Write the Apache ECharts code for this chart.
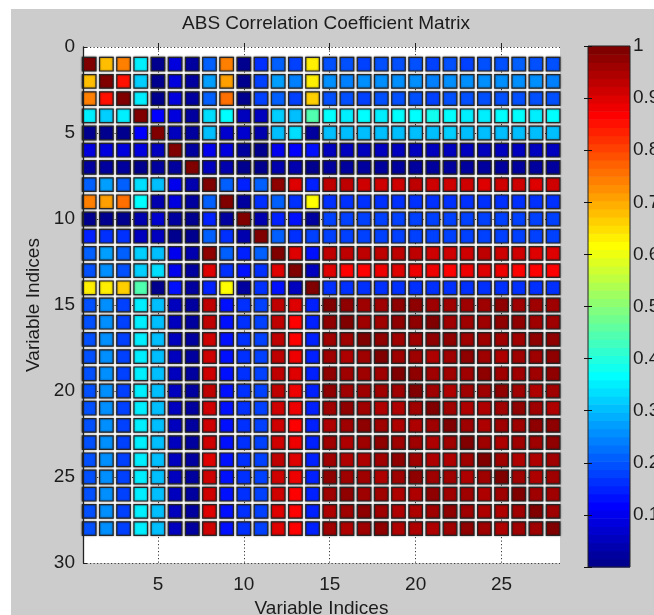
<!DOCTYPE html>
<html>
<head>
<meta charset="utf-8">
<title>ABS Correlation Coefficient Matrix</title>
<script src="https://cdn.jsdelivr.net/npm/echarts@6/dist/echarts.min.js"></script>
<style>
  html, body { margin: 0; padding: 0; background: #ffffff; overflow: hidden; }
  #panel { position: absolute; left: 11px; top: 9px; right: 0; bottom: 0; background: #cccccc; }
  #chart { position: absolute; left: 0; top: 0; width: 654px; height: 615px; }
</style>
</head>
<body>
<div id="panel"></div>
<div id="chart"></div>
<script>
// Absolute correlation coefficients between 28 variables, one array per row.
const r01 = [1, 0.68, 0.742, 0.344, 0.008, 0.09, 0.024, 0.21, 0.742, 0.008, 0.164, 0.21, 0.18, 0.633, 0.195, 0.195, 0.18, 0.195, 0.195, 0.195, 0.18, 0.195, 0.18, 0.195, 0.195, 0.21, 0.195, 0.195];
const r02 = [0.68, 1, 0.852, 0.32, 0.008, 0.09, 0.024, 0.273, 0.711, 0.008, 0.18, 0.273, 0.242, 0.633, 0.258, 0.242, 0.258, 0.258, 0.258, 0.258, 0.242, 0.258, 0.258, 0.258, 0.258, 0.258, 0.258, 0.242];
const r03 = [0.742, 0.852, 1, 0.352, 0.008, 0.09, 0.024, 0.21, 0.758, 0.008, 0.18, 0.21, 0.18, 0.664, 0.195, 0.195, 0.18, 0.195, 0.195, 0.195, 0.18, 0.195, 0.195, 0.195, 0.195, 0.195, 0.195, 0.195];
const r04 = [0.344, 0.32, 0.352, 1, 0.117, 0.09, 0.024, 0.336, 0.367, 0.055, 0.055, 0.328, 0.305, 0.445, 0.36, 0.352, 0.36, 0.352, 0.36, 0.36, 0.38, 0.36, 0.352, 0.352, 0.36, 0.36, 0.352, 0.36];
const r05 = [0.008, 0.008, 0.008, 0.117, 1, 0.055, 0.024, 0.305, 0.07, 0.07, 0.04, 0.305, 0.336, 0.024, 0.305, 0.305, 0.305, 0.305, 0.305, 0.305, 0.305, 0.32, 0.305, 0.305, 0.305, 0.305, 0.305, 0.305];
const r06 = [0.09, 0.09, 0.09, 0.09, 0.055, 1, 0.024, 0.1, 0.09, 0.024, 0.008, 0.1, 0.117, 0.125, 0.055, 0.055, 0.055, 0.055, 0.055, 0.055, 0.055, 0.055, 0.055, 0.055, 0.055, 0.055, 0.055, 0.055];
const r07 = [0.024, 0.024, 0.024, 0.008, 0.024, 0.024, 1, 0.055, 0.04, 0.008, 0.008, 0.04, 0.04, 0.008, 0.024, 0.024, 0.024, 0.024, 0.024, 0.024, 0.024, 0.024, 0.024, 0.024, 0.024, 0.024, 0.024, 0.024];
const r08 = [0.21, 0.273, 0.21, 0.336, 0.305, 0.1, 0.04, 1, 0.21, 0.148, 0.21, 0.977, 0.898, 0.148, 0.93, 0.93, 0.914, 0.914, 0.914, 0.93, 0.914, 0.914, 0.914, 0.898, 0.914, 0.914, 0.898, 0.914];
const r09 = [0.742, 0.711, 0.758, 0.367, 0.04, 0.09, 0.024, 0.21, 1, 0.024, 0.164, 0.21, 0.164, 0.617, 0.164, 0.164, 0.164, 0.164, 0.164, 0.164, 0.164, 0.164, 0.164, 0.164, 0.164, 0.164, 0.164, 0.164];
const r10 = [0.008, 0.008, 0.008, 0.04, 0.07, 0.024, 0.008, 0.148, 0.024, 1, 0.04, 0.148, 0.133, 0.024, 0.18, 0.18, 0.18, 0.18, 0.18, 0.18, 0.18, 0.18, 0.18, 0.18, 0.18, 0.18, 0.18, 0.18];
const r11 = [0.148, 0.164, 0.164, 0.055, 0.055, 0.008, 0.008, 0.21, 0.164, 0.04, 1, 0.21, 0.164, 0.18, 0.18, 0.18, 0.18, 0.18, 0.18, 0.18, 0.18, 0.18, 0.18, 0.18, 0.18, 0.18, 0.18, 0.18];
const r12 = [0.21, 0.273, 0.21, 0.328, 0.305, 0.1, 0.04, 0.977, 0.21, 0.148, 0.21, 1, 0.898, 0.133, 0.93, 0.93, 0.93, 0.93, 0.93, 0.93, 0.914, 0.914, 0.914, 0.93, 0.914, 0.914, 0.898, 0.898];
const r13 = [0.195, 0.258, 0.195, 0.32, 0.336, 0.1, 0.024, 0.898, 0.164, 0.133, 0.164, 0.898, 1, 0.055, 0.898, 0.87, 0.87, 0.883, 0.898, 0.89, 0.883, 0.87, 0.89, 0.906, 0.89, 0.87, 0.87, 0.87];
const r14 = [0.633, 0.633, 0.664, 0.445, 0.008, 0.125, 0.024, 0.148, 0.617, 0.024, 0.164, 0.133, 0.055, 1, 0.164, 0.164, 0.164, 0.164, 0.164, 0.164, 0.164, 0.164, 0.164, 0.164, 0.164, 0.164, 0.164, 0.164];
const r15 = [0.195, 0.258, 0.18, 0.352, 0.305, 0.055, 0.024, 0.93, 0.133, 0.164, 0.18, 0.93, 0.898, 0.148, 1, 0.97, 0.955, 0.961, 0.97, 0.977, 0.961, 0.955, 0.961, 0.961, 0.97, 0.961, 0.955, 0.961];
const r16 = [0.195, 0.258, 0.18, 0.352, 0.305, 0.055, 0.024, 0.93, 0.133, 0.164, 0.18, 0.93, 0.87, 0.148, 0.97, 1, 0.961, 0.955, 0.97, 0.977, 0.985, 0.961, 0.955, 0.955, 0.97, 0.977, 0.961, 0.961];
const r17 = [0.195, 0.258, 0.18, 0.352, 0.305, 0.055, 0.024, 0.914, 0.133, 0.164, 0.18, 0.93, 0.87, 0.148, 0.955, 0.961, 1, 0.97, 0.955, 0.961, 0.977, 0.97, 0.961, 0.955, 0.961, 0.961, 0.977, 0.977];
const r18 = [0.195, 0.258, 0.18, 0.352, 0.305, 0.055, 0.024, 0.914, 0.133, 0.164, 0.18, 0.93, 0.883, 0.148, 0.955, 0.945, 0.961, 1, 0.961, 0.961, 0.945, 0.961, 0.977, 0.961, 0.945, 0.961, 0.961, 0.977];
const r19 = [0.195, 0.258, 0.18, 0.352, 0.305, 0.055, 0.024, 0.914, 0.133, 0.164, 0.18, 0.93, 0.898, 0.148, 0.97, 0.955, 0.955, 0.961, 1, 0.977, 0.955, 0.955, 0.961, 0.977, 0.961, 0.955, 0.955, 0.97];
const r20 = [0.195, 0.258, 0.18, 0.352, 0.305, 0.055, 0.024, 0.93, 0.133, 0.164, 0.18, 0.93, 0.89, 0.148, 0.977, 0.961, 0.961, 0.955, 0.961, 1, 0.961, 0.945, 0.961, 0.961, 0.97, 0.955, 0.945, 0.961];
const r21 = [0.195, 0.258, 0.18, 0.352, 0.305, 0.055, 0.024, 0.914, 0.133, 0.164, 0.18, 0.914, 0.883, 0.148, 0.961, 0.97, 0.961, 0.945, 0.945, 0.961, 1, 0.955, 0.945, 0.945, 0.961, 0.977, 0.955, 0.945];
const r22 = [0.195, 0.258, 0.18, 0.352, 0.305, 0.055, 0.024, 0.914, 0.133, 0.164, 0.18, 0.914, 0.87, 0.148, 0.945, 0.961, 0.977, 0.961, 0.945, 0.945, 0.961, 1, 0.961, 0.945, 0.961, 0.961, 0.977, 0.97];
const r23 = [0.195, 0.258, 0.18, 0.352, 0.305, 0.055, 0.024, 0.914, 0.133, 0.164, 0.18, 0.914, 0.89, 0.148, 0.955, 0.945, 0.961, 0.97, 0.955, 0.955, 0.945, 0.961, 1, 0.961, 0.945, 0.955, 0.961, 0.977];
const r24 = [0.195, 0.258, 0.18, 0.352, 0.305, 0.055, 0.024, 0.898, 0.133, 0.164, 0.18, 0.93, 0.906, 0.148, 0.961, 0.945, 0.945, 0.961, 0.97, 0.961, 0.945, 0.945, 0.961, 1, 0.955, 0.945, 0.945, 0.961];
const r25 = [0.195, 0.258, 0.18, 0.352, 0.305, 0.055, 0.024, 0.914, 0.133, 0.164, 0.18, 0.914, 0.89, 0.148, 0.977, 0.961, 0.961, 0.945, 0.955, 0.977, 0.961, 0.955, 0.945, 0.955, 1, 0.961, 0.945, 0.955];
const r26 = [0.195, 0.258, 0.18, 0.352, 0.305, 0.055, 0.024, 0.914, 0.133, 0.164, 0.18, 0.914, 0.87, 0.148, 0.955, 0.977, 0.961, 0.955, 0.945, 0.945, 0.97, 0.961, 0.955, 0.945, 0.961, 1, 0.961, 0.955];
const r27 = [0.195, 0.258, 0.18, 0.352, 0.305, 0.055, 0.024, 0.898, 0.133, 0.164, 0.18, 0.898, 0.87, 0.148, 0.945, 0.961, 0.97, 0.961, 0.945, 0.945, 0.961, 0.97, 0.961, 0.945, 0.945, 0.961, 1, 0.961];
const r28 = [0.195, 0.258, 0.18, 0.352, 0.305, 0.055, 0.024, 0.914, 0.133, 0.164, 0.18, 0.898, 0.87, 0.148, 0.955, 0.945, 0.961, 0.97, 0.945, 0.945, 0.945, 0.961, 0.97, 0.955, 0.945, 0.955, 0.961, 1];

// Tick values for the matrix axes and the colour bar.
const xTickValues = [5, 10, 15, 20, 25];
const yTickStep = 5;
const yAxisRange = [0, 30];
const colorbarRange = [0, 1];
const colorbarStep = 0.1;

const corrRows = [r01, r02, r03, r04, r05, r06, r07, r08, r09, r10, r11, r12, r13, r14,
                  r15, r16, r17, r18, r19, r20, r21, r22, r23, r24, r25, r26, r27, r28];

const FONT = '"Liberation Sans", Arial, Helvetica, sans-serif';
const INK = '#1c1c1c';
const FS = 19;

// MATLAB-style jet colormap with n discrete levels.
function jetColormap(n) {
  const m = Math.ceil(n / 4);
  const u = [];
  for (let i = 1; i <= m; i++) u.push(i / m);
  for (let i = 1; i < m; i++) u.push(1);
  for (let i = m; i >= 1; i--) u.push(i / m);
  const g0 = Math.ceil(m / 2) - (n % 4 === 1 ? 1 : 0);
  const at = t => (t >= 1 && t <= u.length) ? u[t - 1] : 0;
  const out = [];
  for (let k = 1; k <= n; k++) {
    const r = at(k - g0 - m), g = at(k - g0), b = at(k - g0 + m);
    out.push('rgb(' + Math.round(r * 255) + ',' + Math.round(g * 255) + ',' + Math.round(b * 255) + ')');
  }
  return out;
}
const jet = jetColormap(64);
const levelOf = v => {
  const t = (v - colorbarRange[0]) / (colorbarRange[1] - colorbarRange[0]);
  return Math.max(0, Math.min(jet.length - 1, Math.floor(t * jet.length)));
};

// One square per matrix cell: [column, row, value].
const cells = [];
corrRows.forEach((row, i) => row.forEach((v, j) => cells.push([j + 1, i + 1, v])));

// Colour bar bands: [lower, upper, level].
const bands = jet.map((c, i) => [
  colorbarRange[0] + (colorbarRange[1] - colorbarRange[0]) * i / jet.length,
  colorbarRange[0] + (colorbarRange[1] - colorbarRange[0]) * (i + 1) / jet.length,
  i
]);

const chart = echarts.init(document.getElementById('chart'), null, { renderer: 'canvas' });

const dotted = { type: [1.2, 2.3], color: '#3a3a3a', width: 1 };

chart.setOption({
  animation: false,
  backgroundColor: 'transparent',
  textStyle: { fontFamily: FONT },
  title: {
    text: 'ABS Correlation Coefficient Matrix',
    left: 321, top: 9, textAlign: 'center',
    textStyle: { fontFamily: FONT, fontSize: FS, fontWeight: 'normal', color: INK }
  },
  grid: [
    { left: 83, top: 47, width: 477, height: 516, show: true, backgroundColor: '#ffffff', borderWidth: 0,
      containLabel: false, outerBoundsMode: 'none' },
    { left: 588, top: 46, width: 42, height: 521, show: true, backgroundColor: 'transparent',
      borderColor: '#222', borderWidth: 1, z: 10, containLabel: false, outerBoundsMode: 'none' }
  ],
  xAxis: [
    {
      gridIndex: 0, type: 'value', min: 0.64, max: 28.4, position: 'bottom',
      name: 'Variable Indices', nameLocation: 'middle', nameGap: 34,
      nameTextStyle: { fontFamily: FONT, fontSize: FS, color: INK },
      axisLine: { show: false },
      axisTick: { show: true, inside: true, length: 4, customValues: xTickValues, lineStyle: { color: '#222' } },
      axisLabel: { customValues: xTickValues, fontFamily: FONT, fontSize: FS, color: INK, margin: 12 },
      splitLine: { show: true, lineStyle: dotted }
    },
    {
      gridIndex: 0, type: 'value', min: 0.64, max: 28.4, position: 'top',
      axisLine: { show: false },
      axisTick: { show: true, inside: true, length: 3, customValues: xTickValues, lineStyle: { color: '#222' } },
      axisLabel: { show: false },
      splitLine: { show: false }
    },
    { gridIndex: 1, type: 'value', min: 0, max: 1, show: false }
  ],
  yAxis: [
    {
      gridIndex: 0, type: 'value', inverse: true, min: yAxisRange[0], max: yAxisRange[1], interval: yTickStep,
      name: 'Variable Indices', nameLocation: 'middle', nameGap: 36, nameRotate: 90,
      nameTextStyle: { fontFamily: FONT, fontSize: FS, color: INK },
      axisLine: { show: false },
      axisTick: { show: true, inside: true, length: 4, lineStyle: { color: '#222' } },
      axisLabel: { fontFamily: FONT, fontSize: FS, color: INK, margin: 8 },
      splitLine: { show: true, lineStyle: dotted }
    },
    {
      gridIndex: 1, type: 'value', min: colorbarRange[0], max: colorbarRange[1], interval: colorbarStep,
      position: 'right', z: 11,
      axisLine: { show: false },
      axisTick: { show: true, inside: true, length: 4, lineStyle: { color: '#111' } },
      axisLabel: {
        fontFamily: FONT, fontSize: FS, color: INK, margin: 3,
        formatter: v => (v <= colorbarRange[0] + 1e-9 ? '' : String(+v.toFixed(1)))
      },
      splitLine: { show: false }
    },
    {
      gridIndex: 1, type: 'value', min: colorbarRange[0], max: colorbarRange[1], interval: colorbarStep,
      position: 'left', z: 11,
      axisLine: { show: false },
      axisTick: { show: true, inside: true, length: 4, lineStyle: { color: '#111' } },
      axisLabel: { show: false },
      splitLine: { show: false }
    },
    {
      // solid left spine drawn above the squares
      gridIndex: 0, type: 'value', inverse: true, min: yAxisRange[0], max: yAxisRange[1], interval: yTickStep,
      position: 'left', z: 6,
      axisLine: { show: true, lineStyle: { color: '#222', width: 1.3 } },
      axisTick: { show: false }, axisLabel: { show: false }, splitLine: { show: false }
    }
  ],
  series: [
    {
      type: 'scatter',
      xAxisIndex: 0, yAxisIndex: 0,
      data: cells,
      symbol: 'rect',
      symbolSize: 13.6,
      itemStyle: {
        color: p => jet[levelOf(p.value[2])],
        borderColor: '#262626',
        borderWidth: 1.2,
        shadowBlur: 2,
        shadowColor: 'rgba(0,0,0,0.45)',
        opacity: 1
      },
      emphasis: { disabled: true },
      z: 3
    },
    {
      type: 'custom',
      xAxisIndex: 2, yAxisIndex: 1,
      data: bands,
      renderItem: (params, api) => {
        const lo = api.coord([0, api.value(0)]);
        const hi = api.coord([1, api.value(1)]);
        return {
          type: 'rect',
          shape: { x: lo[0], y: hi[1], width: hi[0] - lo[0], height: lo[1] - hi[1] + 0.6 },
          style: { fill: jet[api.value(2)] }
        };
      },
      silent: true,
      z: 3
    }
  ]
});
</script>
</body>
</html>
